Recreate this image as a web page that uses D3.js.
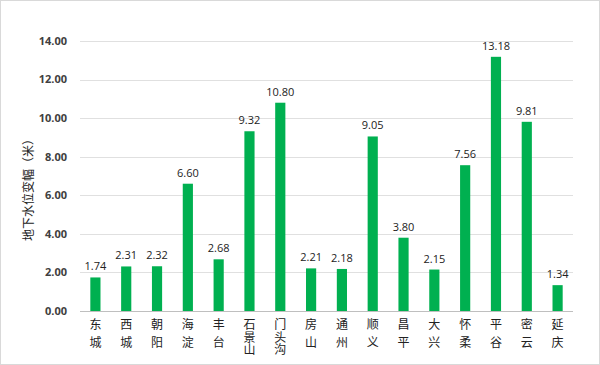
<!DOCTYPE html>
<html>
<head>
<meta charset="utf-8">
<script src="https://cdn.jsdelivr.net/npm/d3@7"></script>
<style>
  body { margin: 0; background: #fff; }
  svg { display: block; }
</style>
</head>
<body>
<div id="chart"></div>
<script>
var districts = ["东城", "西城", "朝阳", "海淀", "丰台", "石景山", "门头沟", "房山", "通州", "顺义", "昌平", "大兴", "怀柔", "平谷", "密云", "延庆"]
var changes = [1.74, 2.31, 2.32, 6.60, 2.68, 9.32, 10.80, 2.21, 2.18, 9.05, 3.80, 2.15, 7.56, 13.18, 9.81, 1.34]
var yTicks = [0, 2, 4, 6, 8, 10, 12, 14]
var yTitle = "地下水位变幅（米）"

var width = 600, height = 365
var margin = {top: 41, right: 27, bottom: 54, left: 80}

var svg = d3.select("#chart")
    .append("svg")
    .attr("width", width)
    .attr("height", height)

// outer frame
svg.append("rect")
    .attr("x", 0.5).attr("y", 0.5)
    .attr("width", width - 1).attr("height", height - 1)
    .attr("fill", "#fff")
    .attr("stroke", "#d9d9d9")

var x = d3.scaleBand()
    .domain(districts)
    .range([margin.left, width - margin.right])
    .paddingInner(0.67)
    .paddingOuter(0.335)

var y = d3.scaleLinear()
    .domain([0, 14])
    .range([height - margin.bottom, margin.top])

// gridlines
svg.append("g")
    .selectAll("line")
    .data(yTicks)
    .enter()
    .append("line")
    .attr("x1", margin.left)
    .attr("x2", width - margin.right)
    .attr("y1", (d) => Math.round(y(d)) + 0.5)
    .attr("y2", (d) => Math.round(y(d)) + 0.5)
    .attr("stroke", (d) => d === 0 ? "#bfbfbf" : "#e0e0e0")
    .attr("stroke-width", 1)

// y tick labels
svg.append("g")
    .selectAll("text")
    .data(yTicks)
    .enter()
    .append("text")
    .attr("x", 67)
    .attr("y", (d) => y(d))
    .attr("dy", "0.35em")
    .attr("text-anchor", "end")
    .attr("font-family", "'Open Sans', 'Liberation Sans', sans-serif")
    .attr("font-size", 11)
    .attr("font-weight", "bold")
    .attr("fill", "#404040")
    .text((d) => d.toFixed(2))

// bars
svg.append("g")
    .selectAll("rect")
    .data(districts)
    .enter()
    .append("rect")
    .attr("x", (d) => x(d))
    .attr("width", x.bandwidth())
    .attr("y", (d, i) => y(changes[i]))
    .attr("height", (d, i) => y(0) - y(changes[i]))
    .attr("fill", "#00b050")

// data labels
svg.append("g")
    .selectAll("text")
    .data(districts)
    .enter()
    .append("text")
    .attr("x", (d) => x(d) + x.bandwidth() / 2)
    .attr("y", (d, i) => y(changes[i]) - 7)
    .attr("text-anchor", "middle")
    .attr("font-family", "'Open Sans', 'Liberation Sans', sans-serif")
    .attr("font-size", 11)
    .attr("fill", "#222")
    .text((d, i) => changes[i].toFixed(2))

// category labels, stacked vertically
var cat = svg.append("g")
    .selectAll("text")
    .data(districts)
    .enter()
    .append("text")
    .attr("text-anchor", "middle")
    .attr("font-family", "'Noto Sans CJK SC', sans-serif")
    .attr("font-size", 12)
    .attr("fill", "#222")

cat.each(function(d) {
    var chars = d.split("")
    var step = chars.length > 2 ? 12.5 : 18
    var t = d3.select(this)
    chars.forEach((c, k) => {
        t.append("tspan")
            .attr("x", x(d) + x.bandwidth() / 2)
            .attr("y", 329 + k * step)
            .text(c)
    })
})

// y axis title
svg.append("text")
    .attr("transform", "translate(33," + 187 + ") rotate(-90)")
    .attr("text-anchor", "middle")
    .attr("font-family", "'Noto Sans CJK SC', sans-serif")
    .attr("font-size", 12)
    .attr("fill", "#222")
    .text(yTitle)
</script>
</body>
</html>
